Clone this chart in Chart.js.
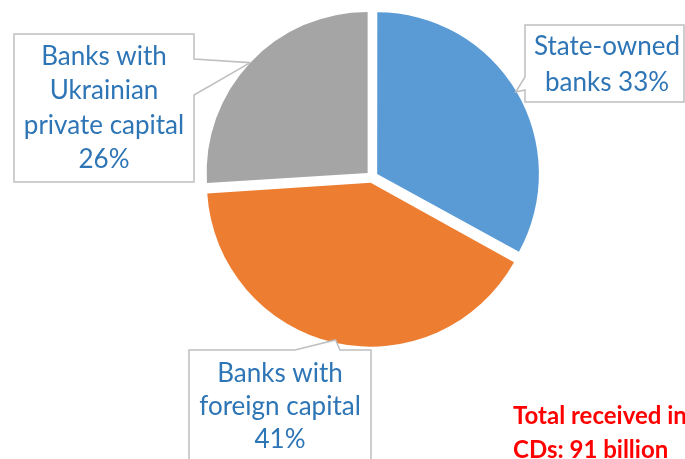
<!DOCTYPE html>
<html>
<head>
<meta charset="utf-8">
<script src="https://cdn.jsdelivr.net/npm/chart.js@4"></script>
<style>
  html, body { margin: 0; padding: 0; background: #fff; }
  #wrap { position: relative; width: 685px; height: 459px; overflow: hidden; }
</style>
</head>
<body>
<div id="wrap"><canvas id="pieChart" width="685" height="459"></canvas></div>
<script>
// chart data
const categories = ["State-owned banks", "Banks with foreign capital", "Banks with Ukrainian private capital"]
const shares = [33, 41, 26]
const labelLines = [
  ["State-owned", "banks 33%"],
  ["Banks with", "foreign capital", "41%"],
  ["Banks with", "Ukrainian", "private capital", "26%"],
]
const colors = ["#5B9BD5", "#ED7D31", "#A5A5A5"]
const noteLines = ["Total received in", "CDs: 91 billion"]

// callout boxes: rect, which side the pointer leaves from, pointer base, text placement
const callouts = [
  { box: [525, 25, 684, 102], side: "left", base: [77, 90], cx: 607, y0: 55, lh: 36 },
  { box: [189, 350, 371, 475], side: "top", base: [295, 340], cx: 280, y0: 382, lh: 33 },
  { box: [14, 34, 194, 182], side: "right", base: [59, 95], cx: 104, y0: 65, lh: 34.3 },
]

const calloutPlugin = {
  id: "callouts",
  afterDatasetsDraw(chart) {
    const ctx = chart.ctx
    const arcs = chart.getDatasetMeta(0).data
    ctx.save()
    arcs.forEach((arc, i) => {
      const c = callouts[i]
      const p = arc.getProps(["x", "y", "startAngle", "endAngle", "outerRadius"], true)
      const mid = (p.startAngle + p.endAngle) / 2
      // Chart.js moves an arc by offset / 4
      const off = arc.options.offset / 4
      const tx = p.x + Math.cos(mid) * (p.outerRadius + off)
      const ty = p.y + Math.sin(mid) * (p.outerRadius + off)
      const [x1, y1, x2, y2] = c.box
      ctx.beginPath()
      ctx.moveTo(x1, y1)
      if (c.side === "top") {
        ctx.lineTo(c.base[0], y1)
        ctx.lineTo(tx, ty)
        ctx.lineTo(c.base[1], y1)
      }
      ctx.lineTo(x2, y1)
      if (c.side === "right") {
        ctx.lineTo(x2, c.base[0])
        ctx.lineTo(tx, ty)
        ctx.lineTo(x2, c.base[1])
      }
      ctx.lineTo(x2, y2)
      ctx.lineTo(x1, y2)
      if (c.side === "left") {
        ctx.lineTo(x1, c.base[1])
        ctx.lineTo(tx, ty)
        ctx.lineTo(x1, c.base[0])
      }
      ctx.closePath()
      ctx.fillStyle = "#ffffff"
      ctx.fill()
      ctx.strokeStyle = "#BFBFBF"
      ctx.lineWidth = 1.5
      ctx.stroke()

      ctx.fillStyle = "#2E75B6"
      ctx.font = "26px Lato"
      ctx.textAlign = "center"
      ctx.textBaseline = "alphabetic"
      labelLines[i].forEach((line, k) => {
        ctx.fillText(line, c.cx, c.y0 + k * c.lh)
      })
    })

    ctx.fillStyle = "#FF0000"
    ctx.font = "bold 24px Lato"
    ctx.textAlign = "left"
    noteLines.forEach((line, k) => {
      ctx.fillText(line, 513, 424 + k * 34)
    })
    ctx.restore()
  },
}

new Chart(document.getElementById("pieChart"), {
  type: "pie",
  data: {
    labels: categories,
    datasets: [
      {
        data: shares,
        backgroundColor: colors,
        borderWidth: 0,
        offset: 24,
      },
    ],
  },
  options: {
    responsive: false,
    animation: false,
    radius: 161,
    layout: {
      padding: { left: 59, right: 0, top: 0, bottom: 105 },
    },
    plugins: {
      legend: { display: false },
      tooltip: { enabled: false },
    },
  },
  plugins: [calloutPlugin],
})
</script>
</body>
</html>
